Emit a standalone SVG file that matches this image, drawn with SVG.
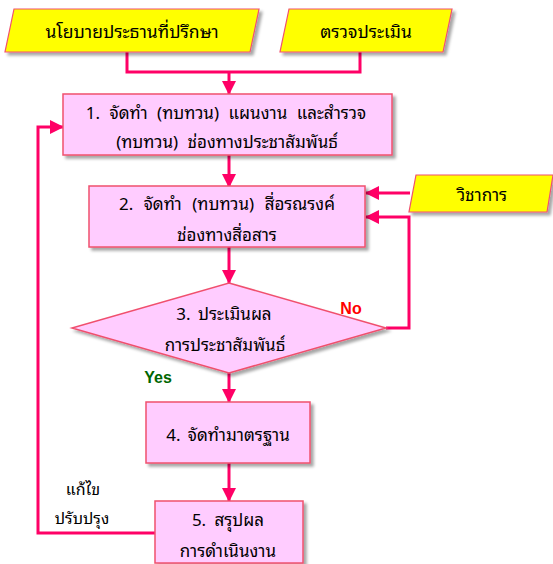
<svg xmlns="http://www.w3.org/2000/svg" width="553" height="564" viewBox="0 0 553 564">
  <style>
    .para { fill: #FFFF00; stroke: #F0506E; stroke-width: 1.2; }
    .box { fill: #FFCCFF; stroke: #F0506E; stroke-width: 1.5; }
    .wire { fill: none; stroke: #FF0066; stroke-width: 3; }
    text { font-family: "Noto Sans Thai Looped", "Noto Sans Thai", "Noto Sans", sans-serif; fill: #000; text-anchor: middle; dominant-baseline: central; font-size: 17px; }
    .tb { font-size: 17.5px; }
    .side { font-size: 16px; }
    .no { font-family: "Liberation Sans", Arial, sans-serif; font-weight: bold; font-size: 16px; fill: #FF0000; }
    .yes { font-family: "Liberation Sans", Arial, sans-serif; font-weight: bold; font-size: 16px; fill: #006600; }
  </style>
  <defs>
    <filter id="shadow" x="-10%" y="-10%" width="130%" height="140%">
      <feDropShadow dx="3" dy="3" stdDeviation="1.8" flood-color="#000" flood-opacity="0.35"/>
    </filter>
    <marker id="arrow" markerUnits="userSpaceOnUse" markerWidth="14" markerHeight="14" refX="13" refY="7" orient="auto">
      <path d="M0,0 L14,7 L0,14 z" fill="#FF0066"/>
    </marker>
  </defs>

  <rect width="553" height="564" fill="#FFFFFF"/>

  <!-- connectors -->
  <g id="connectors">
    <polyline class="wire" points="127,52 127,72 360,72 360,52"/>
    <line class="wire" x1="229" y1="72" x2="229" y2="94" marker-end="url(#arrow)"/>
    <line class="wire" x1="229" y1="155" x2="229" y2="187" marker-end="url(#arrow)"/>
    <line class="wire" x1="410" y1="193" x2="366" y2="193" marker-end="url(#arrow)"/>
    <polyline class="wire" points="386,328 409,328 409,217 366,217" marker-end="url(#arrow)"/>
    <line class="wire" x1="229" y1="247" x2="229" y2="283" marker-end="url(#arrow)"/>
    <line class="wire" x1="229" y1="373" x2="229" y2="402" marker-end="url(#arrow)"/>
    <line class="wire" x1="229" y1="463" x2="229" y2="501" marker-end="url(#arrow)"/>
    <polyline class="wire" points="155,533 38,533 38,127 63,127" marker-end="url(#arrow)"/>
  </g>

  <g id="policy">
    <polygon class="para" filter="url(#shadow)" points="14,9 259,9 250,52 5,52"/>
    <text class="tb" x="132" y="30">นโยบายประธานที่ปรึกษา</text>
  </g>

  <g id="evaluate">
    <polygon class="para" filter="url(#shadow)" points="289,9 452,9 443,52 280,52"/>
    <text class="tb" x="366" y="30">ตรวจประเมิน</text>
  </g>

  <g id="step1">
    <rect class="box" filter="url(#shadow)" x="63" y="94" width="329" height="61"/>
    <text x="226" y="111" word-spacing="5">1. จัดทำ (ทบทวน) แผนงาน และสำรวจ</text>
    <text x="227" y="140" word-spacing="5">(ทบทวน) ช่องทางประชาสัมพันธ์</text>
  </g>

  <g id="academic">
    <polygon class="para" filter="url(#shadow)" points="416,175 553,175 547,212 409,212"/>
    <text x="482" y="193">วิชาการ</text>
  </g>

  <g id="step2">
    <rect class="box" filter="url(#shadow)" x="89" y="186" width="276" height="61"/>
    <text x="227" y="202" word-spacing="6">2. จัดทำ (ทบทวน) สื่อรณรงค์</text>
    <text x="227" y="233">ช่องทางสื่อสาร</text>
  </g>

  <g id="step3">
    <polygon class="box" filter="url(#shadow)" points="229,283 386,328 229,373 72,328"/>
    <text x="224" y="312" word-spacing="3">3. ประเมินผล</text>
    <text x="225" y="343">การประชาสัมพันธ์</text>
    <text class="no" x="351" y="308">No</text>
    <text class="yes" x="158" y="377">Yes</text>
  </g>

  <g id="step4">
    <rect class="box" filter="url(#shadow)" x="146" y="402" width="164" height="61"/>
    <text x="228" y="433" word-spacing="3">4. จัดทำมาตรฐาน</text>
  </g>

  <g id="step5">
    <rect class="box" filter="url(#shadow)" x="155" y="501" width="148" height="62"/>
    <text x="228" y="518" word-spacing="4">5. สรุปผล</text>
    <text x="228" y="549">การดำเนินงาน</text>
  </g>

  <g id="revise-label">
    <text class="side" x="83" y="488">แก้ไข</text>
    <text class="side" x="82" y="517">ปรับปรุง</text>
  </g>
</svg>
